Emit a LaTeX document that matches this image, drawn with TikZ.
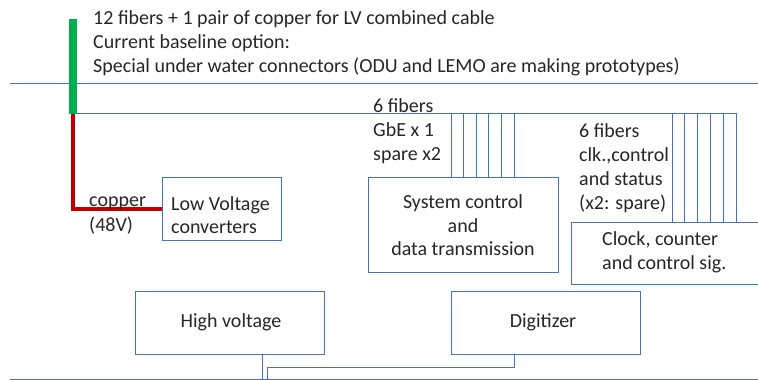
\documentclass[tikz,border=0pt]{standalone}
\usepackage{fontspec}
\setmainfont{Carlito}
\definecolor{lineblue}{HTML}{4472C4}
\definecolor{cgreen}{HTML}{00B050}
\definecolor{cred}{HTML}{C00000}
\definecolor{txt}{HTML}{262626}
\begin{document}
\begin{tikzpicture}[x=1pt,y=-1pt,
  every node/.style={font=\fontsize{20}{24}\selectfont, text=txt, inner sep=0pt},
  box/.style={draw=lineblue, line width=1pt, anchor=north west},
  wire/.style={draw=lineblue, line width=0.9pt},
  lbl/.style={anchor=base west},
  clbl/.style={anchor=base}]
\useasboundingbox (0,0) rectangle (758,380);
% top text
\node[lbl] (t1) at (93,24) {12 fibers + 1 pair of copper for LV combined cable};
\node[lbl] (t2) at (93,48) {Current baseline option:};
\node[lbl] (t3) at (93,72) {Special under water connectors (ODU and LEMO are making prototypes)};
% horizontal lines
\coordinate (topL) at (10,83);
\coordinate (topR) at (758,83);
\draw[wire] (topL) -- (topR);
\coordinate (botL) at (10,379);
\coordinate (botR) at (758,379);
\draw[wire] (botL) -- (botR);
% boxes
\node[box, minimum width=119, minimum height=63] (lv) at (162,177) {};
\node[lbl] (lv1) at (171,210) {Low Voltage};
\node[lbl] (lv2) at (171,233) {converters};
\node[box, minimum width=190, minimum height=95] (sc) at (368,177) {};
\node[clbl] (sc1) at (463,208) {System control};
\node[clbl] (sc2) at (463,232) {and};
\node[clbl] (sc3) at (463,255) {data transmission};
\node[box, minimum width=200, minimum height=62] (clk) at (571,222) {};
\node[lbl] (ck1) at (602,245) {Clock, counter};
\node[lbl] (ck2) at (602,269) {and control sig.};
\node[box, minimum width=189, minimum height=63] (hv) at (135,291) {};
\node[clbl] (hvt) at (231,327) {High voltage};
\node[box, minimum width=189, minimum height=63] (dig) at (451,291) {};
\node[clbl] (digt) at (543,327) {Digitizer};
% fiber bundle
\coordinate (bundle) at (77,113);
\coordinate (bundleEnd) at (736,113);
\draw[wire] (bundle) -- (bundleEnd);
\foreach \x in {451,463.6,476.2,488.8,501.4,514}
  \draw[wire] (\x,113) -- (\x,0 |- sc.north);
\foreach \x in {672,684.8,697.6,710.4,723.2,736}
  \draw[wire] (\x,113) -- (\x,0 |- clk.north);
% cable
\coordinate (gtop) at (73,19);
\coordinate (gbot) at (73,114);
\draw[cgreen, line width=7.5pt] (gtop) -- (gbot);
\coordinate (rcorner) at (73,209);
\draw[cred, line width=3.5pt] (73,114) -- (rcorner) -- (lv.west |- rcorner);
% labels
\node[lbl] (f1) at (373,112) {6 fibers};
\node[lbl] (f2) at (373,136) {GbE x 1};
\node[lbl] (f3) at (373,160) {spare x2};
\node[lbl] (g1) at (579,137) {6 fibers};
\node[lbl] (g2) at (579,161) {clk.,control};
\node[lbl] (g3) at (579,185) {and status};
\node[lbl] (g4) at (579,209) {(x2: spare)};
\node[lbl] (cu1) at (89,206) {copper};
\node[lbl] (cu2) at (89,231) {(48V)};
% HV / digitizer connectors
\coordinate (hvd) at (262,379);
\draw[wire] (hv.south -| hvd) -- (hvd);
\coordinate (dj) at (514,367);
\coordinate (dk) at (267,367);
\coordinate (dl) at (267,379);
\draw[wire] (dig.south -| dj) -- (dj) -- (dk) -- (dl);
\end{tikzpicture}
\end{document}
